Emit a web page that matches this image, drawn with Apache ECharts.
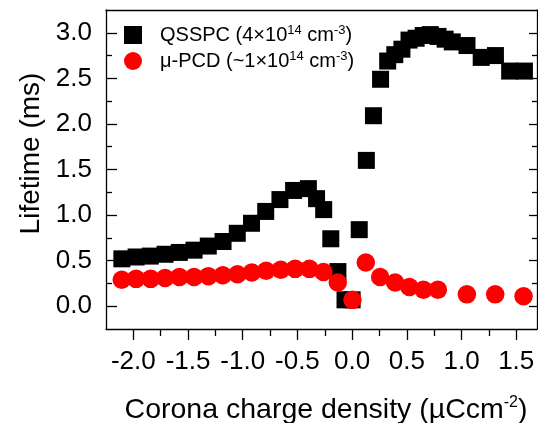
<!DOCTYPE html>
<html><head><meta charset="utf-8">
<script src="https://cdn.jsdelivr.net/npm/echarts@6/dist/echarts.min.js"></script>
<style>html,body{margin:0;padding:0;background:#fff}#c{width:538px;height:423px}</style>
</head><body><div id="c"></div>
<script>
const qsspcX = [-2.105,-1.975,-1.845,-1.71,-1.58,-1.445,-1.315,-1.18,-1.05,-0.92,-0.79,-0.66,-0.535,-0.40,-0.325,-0.26,-0.195,-0.13,-0.065,0.0,0.065,0.13,0.195,0.26,0.325,0.39,0.455,0.52,0.585,0.65,0.715,0.785,0.85,0.915,1.05,1.18,1.31,1.44,1.575];
const qsspcY = [0.52,0.54,0.55,0.57,0.59,0.615,0.66,0.71,0.80,0.91,1.04,1.17,1.27,1.29,1.18,1.06,0.74,0.38,0.07,0.07,0.84,1.60,2.09,2.49,2.69,2.76,2.82,2.92,2.94,2.97,2.98,2.96,2.93,2.90,2.86,2.73,2.75,2.58,2.58];
const pcdX = [-2.106,-1.975,-1.841,-1.71,-1.579,-1.445,-1.314,-1.182,-1.048,-0.917,-0.786,-0.652,-0.521,-0.39,-0.262,-0.131,0.003,0.125,0.256,0.393,0.524,0.652,0.784,1.049,1.308,1.567];
const pcdY = [0.29,0.30,0.30,0.31,0.32,0.32,0.33,0.34,0.35,0.37,0.39,0.40,0.41,0.41,0.375,0.26,0.07,0.48,0.32,0.26,0.21,0.18,0.18,0.13,0.13,0.11];
const xMajorTicks = [-2.0,-1.5,-1.0,-0.5,0.0,0.5,1.0,1.5];
const xMinorTicks = [-1.75,-1.25,-0.75,-0.25,0.25,0.75,1.25];
const yMajorTicks = [0,0.5,1.0,1.5,2.0,2.5,3.0];
const yMinorTicks = [0.25,0.75,1.25,1.75,2.25,2.75];
const seriesNames = ['QSSPC','PCD'];

const FF = 'Liberation Sans, Arial, sans-serif';
const X_MIN = -2.25, X_MAX = 1.69, Y_MIN = -0.25, Y_MAX = 3.25;

function zip(xs, ys){ return xs.map((x,i)=>[x, ys[i]]); }

const lineStyle = {color:'#000', width:1.3};

function xAx(extra){
  return Object.assign({
    type:'value', min:X_MIN, max:X_MAX, interval:0.25, gridIndex:0,
    splitLine:{show:false}, axisLine:{show:false, onZero:false},
    axisTick:{show:false}, axisLabel:{show:false}
  }, extra);
}
function yAx(extra){
  return Object.assign({
    type:'value', min:Y_MIN, max:Y_MAX, interval:0.25, gridIndex:0,
    splitLine:{show:false}, axisLine:{show:false, onZero:false},
    axisTick:{show:false}, axisLabel:{show:false}
  }, extra);
}

const legendText = {
  QSSPC: '{p|}{a|QSSPC (4×10}{s|14}{a| cm}{s|-3}{a|)}',
  PCD: '{p|}{a|μ-PCD (~1×10}{s|14}{a| cm}{s|-3}{a|)}'
};

const option = {
  animation:false,
  backgroundColor:'#fff',
  grid:{left:106, right:1, top:10, bottom:94, containLabel:false, outerBoundsMode:'none'},
  legend:{
    orient:'vertical', left:124, top:24, padding:0, itemGap:5,
    itemWidth:18, itemHeight:18,
    data:seriesNames,
    formatter:(n)=>legendText[n],
    textStyle:{fontFamily:FF, color:'#000', fontSize:20,
      rich:{
        p:{width:13},
        a:{fontFamily:FF, fontSize:20, lineHeight:22, color:'#000'},
        s:{fontFamily:FF, fontSize:13, lineHeight:8, verticalAlign:'top', color:'#000'}
      }}
  },
  xAxis:[
    xAx({position:'bottom', axisLine:{show:true, onZero:false, lineStyle},
      axisTick:{show:true, inside:false, length:11, lineStyle, customValues:xMajorTicks},
      axisLabel:{show:true, customValues:xMajorTicks, margin:20, fontFamily:FF, fontSize:26, color:'#000',
        formatter:(v)=>Number(v).toFixed(1)},
      name:'{a|Corona charge density (µCcm}{s|-2}{a|)}',
      nameLocation:'middle', nameGap:66,
      nameTextStyle:{fontFamily:FF, fontSize:28.5, color:'#000', padding:[0,0,0,9],
        rich:{
          a:{fontFamily:FF, fontSize:28.5, lineHeight:30, color:'#000'},
          s:{fontFamily:FF, fontSize:16, lineHeight:16, verticalAlign:'top', color:'#000'}
        }}
    }),
    xAx({position:'bottom',
      axisTick:{show:true, inside:false, length:7, lineStyle, customValues:xMinorTicks}}),
    xAx({position:'top', axisLine:{show:true, onZero:false, lineStyle}})
  ],
  yAxis:[
    yAx({position:'left', axisLine:{show:true, onZero:false, lineStyle},
      axisTick:{show:true, inside:true, length:11, lineStyle, customValues:yMajorTicks},
      axisLabel:{show:true, customValues:yMajorTicks, margin:14, fontFamily:FF, fontSize:26, color:'#000',
        formatter:(v)=>Number(v).toFixed(1)},
      name:'Lifetime (ms)', nameLocation:'middle', nameGap:48,
      nameTextStyle:{fontFamily:FF, fontSize:28, lineHeight:28, color:'#000', padding:[0,0,0,32]}
    }),
    yAx({position:'left',
      axisTick:{show:true, inside:true, length:6, lineStyle, customValues:yMinorTicks}}),
    yAx({position:'right', axisLine:{show:true, onZero:false, lineStyle},
      axisTick:{show:true, inside:true, length:8, lineStyle, customValues:yMajorTicks}}),
    yAx({position:'right',
      axisTick:{show:true, inside:true, length:5, lineStyle, customValues:yMinorTicks}})
  ],
  series:[
    {name:'QSSPC', type:'scatter', xAxisIndex:0, yAxisIndex:0, symbol:'rect', symbolSize:17,
      itemStyle:{color:'#000', opacity:1}, data:zip(qsspcX, qsspcY)},
    {name:'PCD', type:'scatter', xAxisIndex:0, yAxisIndex:0, symbol:'circle', symbolSize:18.5,
      itemStyle:{color:'#ff0000', opacity:1}, data:zip(pcdX, pcdY)}
  ]
};
const chart = echarts.init(document.getElementById('c'), null, {renderer:'canvas'});
chart.setOption(option);
</script></body></html>
